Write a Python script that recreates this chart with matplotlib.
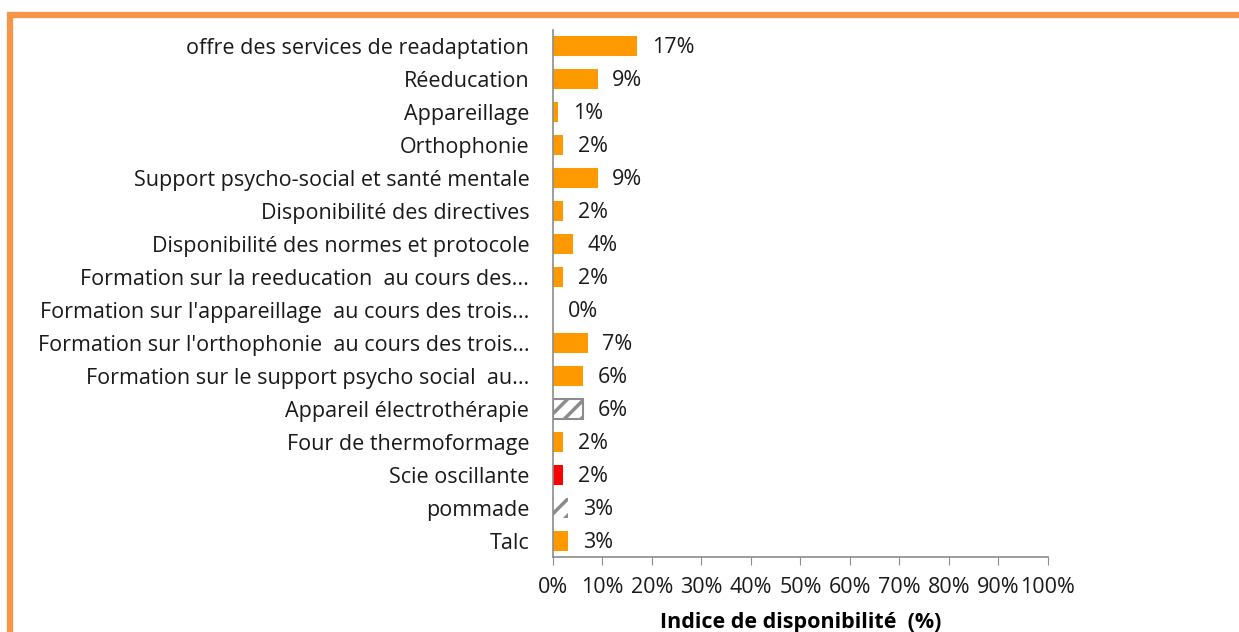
import matplotlib
matplotlib.use("Agg")
import matplotlib.pyplot as plt
from matplotlib.lines import Line2D
from matplotlib.ticker import MultipleLocator, PercentFormatter

plt.rcParams['font.family'] = ['Open Sans', 'DejaVu Sans']
plt.rcParams['hatch.linewidth'] = 2.5

categories = [
    "offre des services de readaptation",
    "Réeducation",
    "Appareillage",
    "Orthophonie",
    "Support psycho-social et santé mentale",
    "Disponibilité des directives",
    "Disponibilité des normes et protocole",
    "Formation sur la reeducation  au cours des...",
    "Formation sur l'appareillage  au cours des trois...",
    "Formation sur l'orthophonie  au cours des trois...",
    "Formation sur le support psycho social  au...",
    "Appareil électrothérapie",
    "Four de thermoformage",
    "Scie oscillante",
    "pommade",
    "Talc",
]
values = [17, 9, 1, 2, 9, 2, 4, 2, 0, 7, 6, 6, 2, 2, 3, 3]
styles = ["solid"] * 11 + ["hatch_box", "solid", "red", "hatch", "solid"]

ORANGE = "#FF9900"
RED = "#FF0000"
GREY = "#8C8C8C"
FS = 15.5

fig = plt.figure(figsize=(12.39, 6.32), dpi=100)
ax = fig.add_axes([0.4463, 0.1179, 0.3995, 0.8354])

n = len(categories)
ypos = list(range(n))
for y, v, s in zip(ypos, values, styles):
    if s == "solid":
        ax.barh(y, v, height=0.6, color=ORANGE, linewidth=0)
    elif s == "red":
        ax.barh(y, v, height=0.6, color=RED, linewidth=0)
    elif s == "hatch_box":
        ax.barh(y, v, height=0.6, facecolor="white", edgecolor=GREY,
                hatch="//", linewidth=1.5)
    elif s == "hatch":
        ax.barh(y, v, height=0.6, facecolor="white", edgecolor=GREY,
                hatch="//", linewidth=0)
    ax.text(v + 3.0, y + 0.06, f"{v}%", va="center", ha="left", fontsize=FS,
            color="#1a1a1a")

ax.set_ylim(n - 0.5, -0.5)
ax.set_xlim(0, 100)
ax.set_yticks(ypos)
ax.set_yticklabels(categories, fontsize=FS, color="#1a1a1a")
ax.tick_params(axis="y", length=0, pad=17)
ax.xaxis.set_major_locator(MultipleLocator(10))
ax.xaxis.set_major_formatter(PercentFormatter(decimals=0))
ax.tick_params(axis="x", direction="out", length=6, color=GREY,
               labelsize=FS, labelcolor="#1a1a1a", pad=8)
for side in ("top", "right"):
    ax.spines[side].set_visible(False)
for side in ("left", "bottom"):
    ax.spines[side].set_color(GREY)
    ax.spines[side].set_linewidth(1.2)
ax.set_xlabel("Indice de disponibilité  (%)", fontsize=FS, fontweight="bold",
              labelpad=10)

# frame around the figure
border = "#F79646"
fig.add_artist(Line2D([7 / 1239, 1.0], [1 - 14.5 / 632] * 2,
                      transform=fig.transFigure, color=border, linewidth=4.5,
                      solid_capstyle="butt"))
fig.add_artist(Line2D([10 / 1239] * 2, [0.0, 1 - 12 / 632],
                      transform=fig.transFigure, color=border, linewidth=4.5,
                      solid_capstyle="butt"))

fig.savefig("out.png", dpi=100, facecolor="white")
